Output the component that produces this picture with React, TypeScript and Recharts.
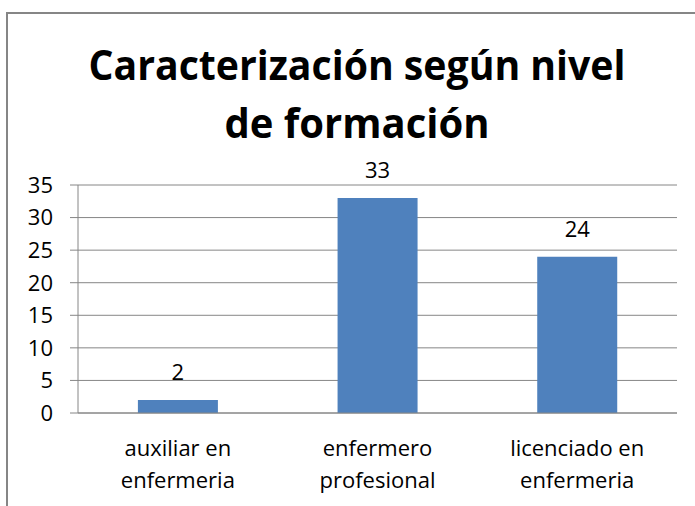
import { BarChart, Bar, XAxis, YAxis, CartesianGrid, LabelList } from 'recharts';

const categories = ['auxiliar en\nenfermeria', 'enfermero\nprofesional', 'licenciado en\nenfermeria'];
const counts = [2, 33, 24];
const yTicks = [0, 5, 10, 15, 20, 25, 30, 35];
const edgeTicks = [0, 1, 2, 3];
const titleLines = ['Caracterización según nivel', 'de formación'];

const FONT = '"Open Sans", "Liberation Sans", sans-serif';
const GRAY = '#868686';

const data = categories.map((name, i) => ({ name, value: counts[i] }));

function CategoryTick({ x, y, payload }: any) {
    const lines = String(payload.value).split('\n');
    return (
        <text x={x} y={y} textAnchor="middle" fill="#000" fontSize={22} fontFamily={FONT}>
            {lines.map((line, i) => (
                <tspan key={i} x={x} dy={i === 0 ? 42 : 32}>{line}</tspan>
            ))}
        </text>
    );
}

export default function App() {
    return (
        <div style={{ position: 'absolute', left: 0, top: 0, width: 695, height: 506, overflow: 'hidden', background: '#fff' }}>
            {/* chart frame, cut off on the right and bottom like the original */}
            <div style={{ position: 'absolute', left: 6, top: 12, width: 720, height: 520, border: `2px solid ${GRAY}` }} />
            <svg width={695} height={160} style={{ position: 'absolute', left: 0, top: 0 }}>
                <text x={357} y={80} textAnchor="middle" fontFamily={FONT} fontWeight="bold" fontSize={42}
                    fill="#000" textLength={537} lengthAdjust="spacingAndGlyphs">{titleLines[0]}</text>
                <text x={357} y={138} textAnchor="middle" fontFamily={FONT} fontWeight="bold" fontSize={42}
                    fill="#000" textLength={265} lengthAdjust="spacingAndGlyphs">{titleLines[1]}</text>
            </svg>
            <div style={{ position: 'absolute', left: 0, top: 0 }}>
                <BarChart width={695} height={506} data={data} barCategoryGap="30%"
                    margin={{ top: 185, right: 18, left: 0, bottom: 0 }}>
                    <CartesianGrid vertical={false} stroke={GRAY} />
                    <XAxis xAxisId="cat" dataKey="name" height={92} axisLine={false} tickLine={false} tickSize={0} tickMargin={0}
                        tick={<CategoryTick />} interval={0} />
                    {/* numeric helper axis: draws the axis line and tick marks between categories */}
                    <XAxis type="number" domain={[0, 3]} ticks={edgeTicks} height={1}
                        axisLine={{ stroke: GRAY }} tick={false} tickSize={7} tickLine={{ stroke: GRAY }} />
                    <YAxis width={78} domain={[0, 35]} ticks={yTicks} tickSize={8} tickMargin={17}
                        axisLine={{ stroke: GRAY }} tickLine={{ stroke: GRAY }}
                        tick={{ fill: '#000', fontSize: 22, fontFamily: FONT }} />
                    <Bar xAxisId="cat" dataKey="value" fill="#4F81BD" isAnimationActive={false}>
                        <LabelList dataKey="value" position="top" offset={20} fill="#000" fontSize={22} fontFamily={FONT} />
                    </Bar>
                </BarChart>
            </div>
        </div>
    );
}
